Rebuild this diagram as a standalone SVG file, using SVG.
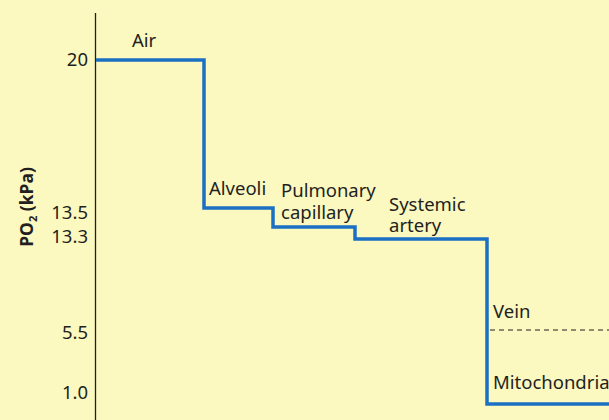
<svg xmlns="http://www.w3.org/2000/svg" width="609" height="420" viewBox="0 0 609 420">
<style>
text{font-family:"Noto Sans","Open Sans","Liberation Sans",sans-serif;font-size:18.5px;fill:#231f20}
.tick{text-anchor:end}
.axis{stroke:#231f20;stroke-width:1.3;fill:none}
.trace{stroke:#1b70c4;stroke-width:3.5;fill:none;stroke-linejoin:miter}
.dash{stroke:#231f20;stroke-width:1.2;stroke-dasharray:5 4;fill:none}
</style>
<rect width="609" height="420" fill="#fbf8c0"/>
<g id="axis">
<line class="axis" x1="95.5" y1="13" x2="95.5" y2="420"/>
<text class="tick" x="88" y="66">20</text>
<text class="tick" x="88" y="219">13.5</text>
<text class="tick" x="88" y="243">13.3</text>
<text class="tick" x="88" y="339">5.5</text>
<text class="tick" x="88" y="399">1.0</text>
<text transform="translate(33,207) rotate(-90)" text-anchor="middle" font-weight="bold" style="font-size:17.5px">PO<tspan font-size="11" dy="4">2</tspan><tspan dy="-4"> (kPa)</tspan></text>
</g>
<g id="connectors">
<polyline class="trace" points="96,60 204,60 204,208 273,208 273,227 355,227 355,239 487,239 487,404 612,404"/>
<line class="dash" x1="490" y1="330" x2="609" y2="330"/>
</g>
<g id="air"><text x="132" y="47">Air</text></g>
<g id="alveoli"><text x="209" y="195">Alveoli</text></g>
<g id="pulmonary-capillary"><text x="281" y="197">Pulmonary</text><text x="281" y="219">capillary</text></g>
<g id="systemic-artery"><text x="389" y="211">Systemic</text><text x="389" y="232">artery</text></g>
<g id="vein"><text x="493" y="318">Vein</text></g>
<g id="mitochondria"><text x="493" y="389">Mitochondria</text></g>
</svg>
